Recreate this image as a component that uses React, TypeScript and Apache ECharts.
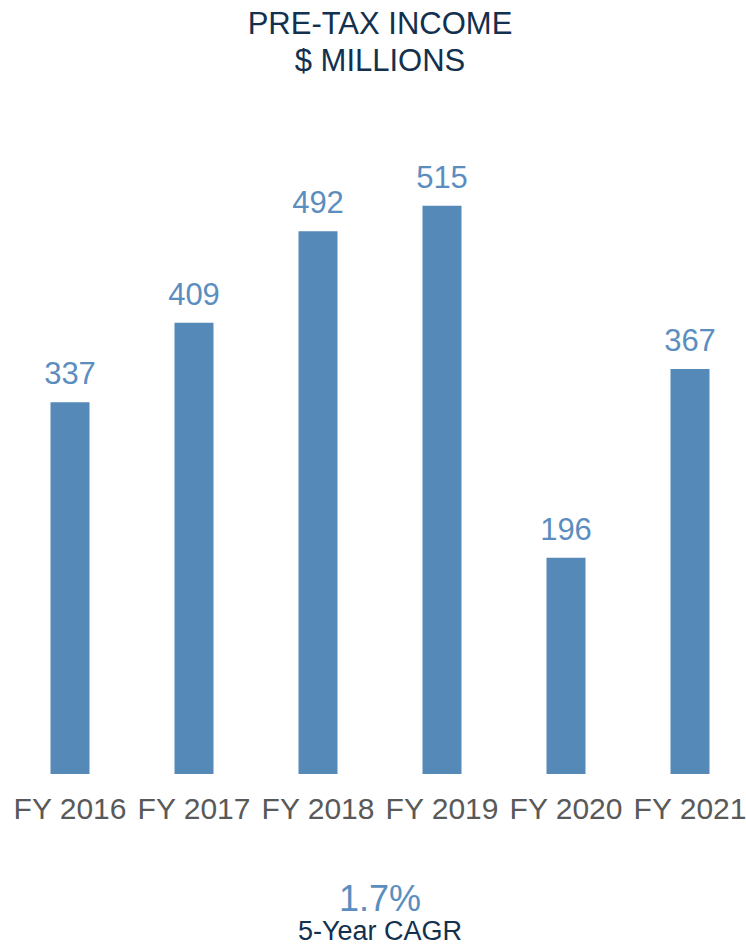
import React, { useEffect, useRef } from "react";
import * as echarts from "echarts";

const categories = ["FY 2016", "FY 2017", "FY 2018", "FY 2019", "FY 2020", "FY 2021"];
const preTaxIncome = [337, 409, 492, 515, 196, 367];
const titleLines = ["PRE-TAX INCOME", "$ MILLIONS"];
const cagrValue = "1.7%";
const cagrLabel = "5-Year CAGR";

const FONT = "'Liberation Sans', Arial, sans-serif";

export default function App() {
  const ref = useRef<HTMLDivElement>(null);
  useEffect(() => {
    if (!ref.current) return;
    const chart = echarts.init(ref.current, null, { renderer: "svg" });
    const cx = 380;
    chart.setOption({
      animation: false,
      backgroundColor: "#ffffff",
      graphic: [
        {
          type: "text",
          x: cx,
          y: 23,
          style: { text: titleLines[0], fontFamily: FONT, fontSize: 31, fill: "#13304F", align: "center", verticalAlign: "middle" },
        },
        {
          type: "text",
          x: cx,
          y: 60,
          style: { text: titleLines[1], fontFamily: FONT, fontSize: 31, fill: "#13304F", align: "center", verticalAlign: "middle" },
        },
        {
          type: "text",
          x: cx,
          y: 898,
          style: { text: cagrValue, fontFamily: FONT, fontSize: 36, lineHeight: 34, fill: "#5B8EBF", align: "center", verticalAlign: "middle" },
        },
        {
          type: "text",
          x: cx,
          y: 931,
          style: { text: cagrLabel, fontFamily: FONT, fontSize: 27, lineHeight: 26, fill: "#13304F", align: "center", verticalAlign: "middle" },
        },
      ],
      grid: { left: 8, width: 744, top: 112, bottom: 171, containLabel: false },
      xAxis: {
        type: "category",
        data: categories,
        axisLine: { show: false },
        axisTick: { show: false },
        axisLabel: { fontFamily: FONT, fontSize: 30, color: "#595959", margin: 19, interval: 0 },
      },
      yAxis: {
        type: "value",
        min: 0,
        max: 600,
        show: false,
        splitLine: { show: false },
      },
      series: [
        {
          type: "bar",
          data: preTaxIncome,
          barWidth: 39,
          itemStyle: { color: "#5589B8" },
          label: {
            show: true,
            position: "top",
            distance: 13,
            fontFamily: FONT,
            fontSize: 31,
            color: "#5B8EBF",
          },
        },
      ],
    });
    return () => chart.dispose();
  }, []);
  return (
    <div style={{ position: "absolute", left: 0, top: 0, width: 746, height: 945, overflow: "hidden" }}>
      <div ref={ref} style={{ width: 760, height: 945 }} />
    </div>
  );
}
